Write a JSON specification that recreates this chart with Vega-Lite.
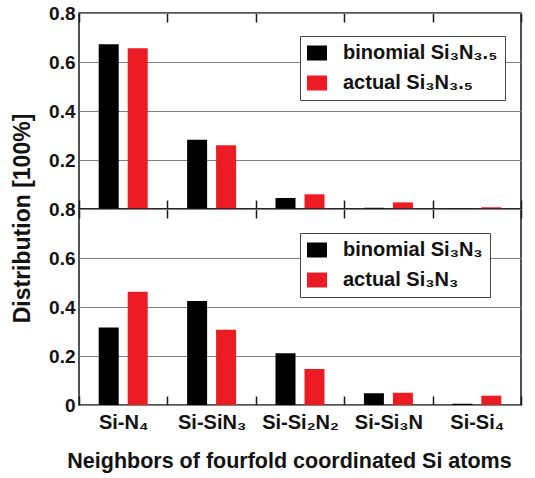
{
  "$schema": "https://vega.github.io/schema/vega-lite/v6.json",
  "background": "white",
  "padding": {"left": 10, "top": 3, "right": 5, "bottom": 5},
  "config": {
    "font": "Liberation Sans",
    "view": {"stroke": "#1a1a1a", "strokeWidth": 1.5},
    "axis": {
      "labelFont": "Liberation Sans",
      "labelFontSize": 19,
      "labelFontWeight": "bold",
      "labelColor": "#111111",
      "titleFont": "Liberation Sans",
      "titleFontSize": 21.5,
      "titleFontWeight": "bold",
      "titleColor": "#111111",
      "domain": false,
      "ticks": false
    },
    "axisX": {
      "grid": true,
      "gridColor": "#1a1a1a",
      "gridWidth": 1.5,
      "gridOpacity": 1,
      "gridDash": [9, 178, 9, 1000],
      "tickBand": "extent",
      "labelFontSize": 20
    },
    "axisY": {
      "grid": true,
      "gridColor": "#808080",
      "gridWidth": 1,
      "gridOpacity": 1,
      "titleFontSize": 23
    },
    "legend": {
      "orient": "none",
      "direction": "vertical",
      "strokeColor": "#444444",
      "fillColor": "white",
      "padding": 7,
      "symbolType": "M-1,-0.75H1V0.75H-1Z",
      "symbolSize": 400,
      "symbolStrokeWidth": 0,
      "symbolOpacity": 1,
      "labelFont": "Liberation Sans",
      "labelFontSize": 20,
      "labelFontWeight": "bold",
      "labelColor": "#111111",
      "labelOffset": 16,
      "rowPadding": 10
    }
  },
  "data": {
    "values": [
      {"panel": "top", "cat": "Si-N₄", "series": "binomial", "value": 0.672},
      {"panel": "top", "cat": "Si-N₄", "series": "actual", "value": 0.656},
      {"panel": "top", "cat": "Si-SiN₃", "series": "binomial", "value": 0.283},
      {"panel": "top", "cat": "Si-SiN₃", "series": "actual", "value": 0.260},
      {"panel": "top", "cat": "Si-Si₂N₂", "series": "binomial", "value": 0.045},
      {"panel": "top", "cat": "Si-Si₂N₂", "series": "actual", "value": 0.060},
      {"panel": "top", "cat": "Si-Si₃N", "series": "binomial", "value": 0.005},
      {"panel": "top", "cat": "Si-Si₃N", "series": "actual", "value": 0.027},
      {"panel": "top", "cat": "Si-Si₄", "series": "binomial", "value": 0.001},
      {"panel": "top", "cat": "Si-Si₄", "series": "actual", "value": 0.007},
      {"panel": "bottom", "cat": "Si-N₄", "series": "binomial", "value": 0.316},
      {"panel": "bottom", "cat": "Si-N₄", "series": "actual", "value": 0.462},
      {"panel": "bottom", "cat": "Si-SiN₃", "series": "binomial", "value": 0.424},
      {"panel": "bottom", "cat": "Si-SiN₃", "series": "actual", "value": 0.307},
      {"panel": "bottom", "cat": "Si-Si₂N₂", "series": "binomial", "value": 0.211},
      {"panel": "bottom", "cat": "Si-Si₂N₂", "series": "actual", "value": 0.147},
      {"panel": "bottom", "cat": "Si-Si₃N", "series": "binomial", "value": 0.048},
      {"panel": "bottom", "cat": "Si-Si₃N", "series": "actual", "value": 0.050},
      {"panel": "bottom", "cat": "Si-Si₄", "series": "binomial", "value": 0.005},
      {"panel": "bottom", "cat": "Si-Si₄", "series": "actual", "value": 0.038}
    ]
  },
  "spacing": 0,
  "bounds": "flush",
  "resolve": {"scale": {"color": "independent"}, "legend": {"color": "independent"}},
  "vconcat": [
    {
      "width": 442,
      "height": 196,
      "transform": [{"filter": "datum.panel === 'top'"}],
      "mark": {"type": "bar"},
      "encoding": {
        "x": {"field": "cat", "type": "nominal",
          "scale": {"domain": ["Si-N₄", "Si-SiN₃", "Si-Si₂N₂", "Si-Si₃N", "Si-Si₄"], "paddingInner": 0, "paddingOuter": 0},
          "axis": {"labels": false, "title": null}},
        "xOffset": {"field": "series", "type": "nominal",
          "scale": {"domain": ["binomial", "actual"], "paddingInner": 0.31, "paddingOuter": 0.68}},
        "y": {"field": "value", "type": "quantitative",
          "scale": {"domain": [0, 0.8], "nice": false},
          "axis": {"values": [0.2, 0.4, 0.6, 0.8], "format": ".1f", "labelPadding": 4,
            "title": "Distribution [100%]", "titleY": 205, "titlePadding": 14}},
        "color": {"field": "series", "type": "nominal",
          "scale": {"domain": ["binomial", "actual"], "range": ["#000000", "#ec1c24"]},
          "legend": {"title": null, "legendX": 221, "legendY": 23,
            "labelExpr": "datum.label === 'binomial' ? 'binomial Si₃N₃.₅' : 'actual Si₃N₃.₅'"}}
      }
    },
    {
      "width": 442,
      "height": 196,
      "transform": [{"filter": "datum.panel === 'bottom'"}],
      "mark": {"type": "bar"},
      "encoding": {
        "x": {"field": "cat", "type": "nominal",
          "scale": {"domain": ["Si-N₄", "Si-SiN₃", "Si-Si₂N₂", "Si-Si₃N", "Si-Si₄"], "paddingInner": 0, "paddingOuter": 0},
          "axis": {"labelAngle": 0, "labelPadding": 7,
            "title": "Neighbors of fourfold coordinated Si atoms", "titleX": 210, "titlePadding": 18}},
        "xOffset": {"field": "series", "type": "nominal",
          "scale": {"domain": ["binomial", "actual"], "paddingInner": 0.31, "paddingOuter": 0.68}},
        "y": {"field": "value", "type": "quantitative",
          "scale": {"domain": [0, 0.8], "nice": false},
          "axis": {"values": [0, 0.2, 0.4, 0.6, 0.8], "labelPadding": 4, "title": null,
            "labelExpr": "datum.value == 0 ? '0' : format(datum.value, '.1f')"}},
        "color": {"field": "series", "type": "nominal",
          "scale": {"domain": ["binomial", "actual"], "range": ["#000000", "#ec1c24"]},
          "legend": {"title": null, "legendX": 221, "legendY": 24,
            "labelExpr": "datum.label === 'binomial' ? 'binomial Si₃N₃' : 'actual Si₃N₃'"}}
      }
    }
  ]
}
